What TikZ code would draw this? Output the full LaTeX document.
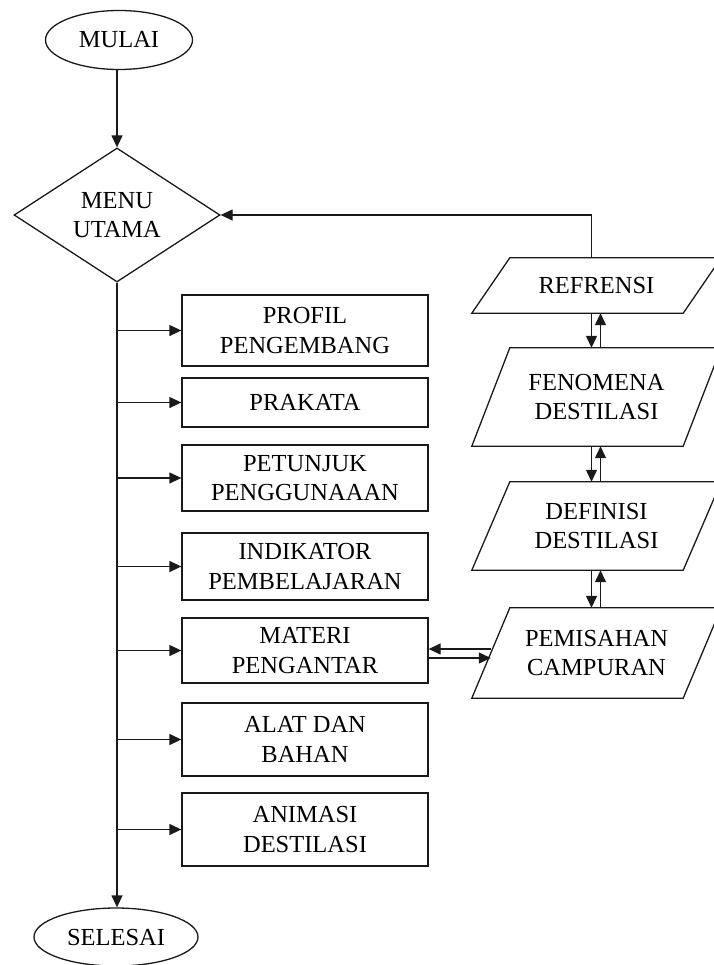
\documentclass[tikz,border=0pt]{standalone}
\usepackage{fontspec}
\setmainfont{Liberation Serif}
\usetikzlibrary{arrows.meta, positioning, shapes.geometric, calc}
\definecolor{lineBlack}{HTML}{1A1A1A}
\tikzset{
  arrowK/.style={-{Triangle[length=12pt, width=11pt]}, draw=lineBlack, line width=1.3pt},
  boxMenu/.style={rectangle, draw=lineBlack, line width=1.3pt, align=center,
                  minimum width=246pt, inner sep=2pt},
  boxEnd/.style={ellipse, draw=lineBlack, line width=1.3pt, inner sep=0pt},
  boxIO/.style={rectangle, align=center, minimum width=211pt, inner sep=0pt},
  boxChoice/.style={diamond, draw=lineBlack, line width=1.3pt, align=center,
                    inner sep=0pt, minimum width=206pt, minimum height=134pt},
}

\begin{document}
\begin{tikzpicture}[x=1pt, y=-1pt, font=\fontsize{24.5}{29.5}\selectfont]
  \useasboundingbox (0,0) rectangle (713,965);
  % Mulai dan menu utama
  \node[boxEnd, minimum width=147pt, minimum height=59pt] (mulai) at (119,40) {MULAI};
  \node[boxChoice] (menu) at (117,215) {MENU\\UTAMA};
  \node[boxEnd, minimum width=164pt, minimum height=58pt] (selesai) at (116,937) {SELESAI};
  % Menu kiri
  \node[boxMenu, minimum height=71pt] (profil) at (305,330.5) {PROFIL\\PENGEMBANG};
  \node[boxMenu, minimum height=49pt] (prakata) at (305,402.5) {PRAKATA};
  \node[boxMenu, minimum height=66pt] (petunjuk) at (305,478) {PETUNJUK\\PENGGUNAAAN};
  \node[boxMenu, minimum height=67pt] (indikator) at (305,566.5) {INDIKATOR\\PEMBELAJARAN};
  \node[boxMenu, minimum height=65pt] (materi) at (305,650.5) {MATERI\\PENGANTAR};
  \node[boxMenu, minimum height=73pt] (alat) at (305,739.5) {ALAT DAN\\BAHAN};
  \node[boxMenu, minimum height=73pt] (animasi) at (305,829.5) {ANIMASI\\DESTILASI};
  % Materi kanan
  \node[boxIO, minimum height=55pt] (refrensi) at (596.5,285.5) {REFRENSI};
  \node[boxIO, minimum height=98pt] (fenomena) at (596.5,397) {FENOMENA\\DESTILASI};
  \node[boxIO, minimum height=88pt] (definisi) at (596.5,526) {DEFINISI\\DESTILASI};
  \node[boxIO, minimum height=90pt] (pemisahan) at (596.5,653) {PEMISAHAN\\CAMPURAN};
  \foreach \n in {refrensi, fenomena, definisi, pemisahan}
    \draw[draw=lineBlack, line width=1.3pt]
      ([xshift=-19pt]\n.south west) -- ([xshift=-19pt]\n.south east)
      -- ([xshift=19pt]\n.north east) -- ([xshift=19pt]\n.north west) -- cycle;
  % Alur
  \draw[arrowK] (mulai.south -| menu.north) -- (menu);
  \draw[arrowK] (menu.south) -- (menu.south |- selesai.north);
  \foreach \b in {profil, prakata, petunjuk, indikator, materi, alat, animasi}
    \draw[arrowK] (menu.south |- \b.west) -- (\b.west);
  \draw[arrowK] ([xshift=-5pt]refrensi.north) |- (menu.east);
  \foreach \a/\b in {refrensi/fenomena, fenomena/definisi, definisi/pemisahan} {
    \draw[arrowK] ([xshift=-5pt]\a.south) -- ([xshift=-5pt]\a.south |- \b.north);
    \draw[arrowK] ([xshift=4pt]\a.south |- \b.north) -- ([xshift=4pt]\a.south);
  }
  \draw[arrowK] ([yshift=4pt]pemisahan.west) -- ([yshift=4pt]pemisahan.west -| materi.east);
  \draw[arrowK] ([yshift=-5pt]pemisahan.west -| materi.east) -- ([yshift=-5pt]pemisahan.west);
\end{tikzpicture}
\end{document}
